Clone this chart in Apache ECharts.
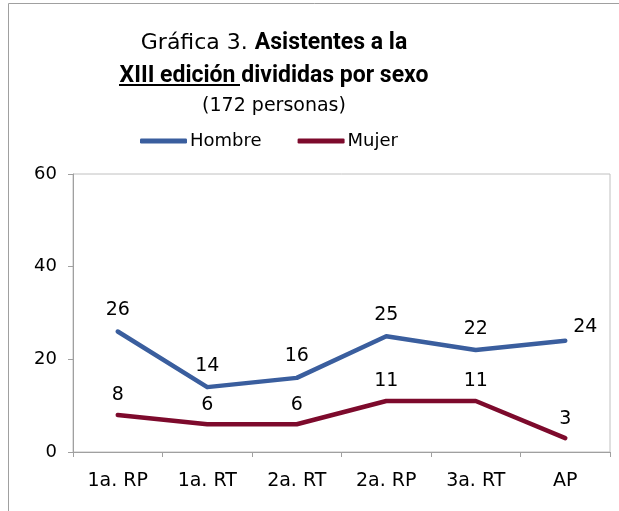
<!DOCTYPE html>
<html><head><meta charset="utf-8">
<script src="https://cdn.jsdelivr.net/npm/echarts@6/dist/echarts.min.js"></script>
<style>html,body{margin:0;padding:0;background:#fff}#c{width:619px;height:511px}</style>
</head><body><div id="c"></div>
<script>
var categories = ['1a. RP', '1a. RT', '2a. RT', '2a. RP', '3a. RT', 'AP'];
var hombre = [26, 14, 16, 25, 22, 24];
var mujer = [8, 6, 6, 11, 11, 3];
var seriesNames = ['Hombre', 'Mujer'];
var yTicks = {min: 0, max: 60, interval: 20};

var FONT = 'DejaVu Sans';
var BFONT = 'Roboto';
var chart = echarts.init(document.getElementById('c'), null, {renderer: 'canvas'});
var lastLabel = function (arr) {
  return arr.map(function (v, i) {
    if (i === arr.length - 1) {
      return {value: v, label: {position: 'right', distance: 8, offset: [0, -14]}};
    }
    return v;
  });
};
chart.setOption({
  animation: false,
  title: {
    left: 269, top: 22, textAlign: 'center',
    text: '{n|Gráfica 3. }{b|Asistentes a la}\n{b|XIII edición divididas por sexo}\n{s|(172 personas)}',
    textStyle: {
      fontWeight: 'normal',
      rich: {
        n: {fontFamily: FONT, fontWeight: 'normal', fontSize: 22, color: '#000', lineHeight: 33},
        b: {fontFamily: BFONT, fontWeight: 'bold', fontSize: 23, color: '#000', lineHeight: 33},
        s: {fontFamily: FONT, fontWeight: 'normal', fontSize: 19, color: '#000', lineHeight: 26}
      }
    }
  },
  legend: {
    left: 135, top: 127,
    itemWidth: 47, itemHeight: 5, itemGap: 36,
    icon: 'roundRect',
    textStyle: {fontFamily: FONT, fontSize: 18, color: '#000', padding: [0, 0, 0, -2]},
    data: seriesNames
  },
  graphic: [
    {type: 'polyline', shape: {points: [[8.5, 700], [8.5, 3.5], [700, 3.5]]}, style: {stroke: '#a0a0a0', lineWidth: 1, fill: null}, silent: true},
    {type: 'line', shape: {x1: 119, y1: 85, x2: 240, y2: 85}, style: {stroke: '#000', lineWidth: 2}, silent: true}
  ],
  grid: {left: 73, top: 174, right: 9, bottom: 59, show: true, borderColor: '#c0c0c0', borderWidth: 1, containLabel: false},
  xAxis: {
    type: 'category', data: categories, boundaryGap: true,
    axisLine: {lineStyle: {color: '#a0a0a0', width: 1}},
    axisTick: {show: true, length: 5, lineStyle: {color: '#a0a0a0'}},
    axisLabel: {fontFamily: FONT, fontSize: 19, color: '#000', margin: 20, interval: 0}
  },
  yAxis: {
    type: 'value', min: yTicks.min, max: yTicks.max, interval: yTicks.interval,
    splitLine: {show: false},
    axisLine: {show: true, lineStyle: {color: '#a0a0a0', width: 1}},
    axisTick: {show: true, length: 5, lineStyle: {color: '#a0a0a0'}},
    axisLabel: {fontFamily: FONT, fontSize: 18, color: '#000', margin: 16}
  },
  series: [
    {
      name: seriesNames[0], type: 'line', data: lastLabel(hombre),
      symbol: 'circle', symbolSize: 0, showSymbol: true, color: '#3A5E9E',
      lineStyle: {width: 4.5, cap: 'round', join: 'round'},
      label: {show: true, position: 'top', distance: 12, fontFamily: FONT, fontSize: 19, color: '#000'}
    },
    {
      name: seriesNames[1], type: 'line', data: mujer,
      symbol: 'circle', symbolSize: 0, showSymbol: true, color: '#7D0A2C',
      lineStyle: {width: 4.5, cap: 'round', join: 'round'},
      label: {show: true, position: 'top', distance: 10, fontFamily: FONT, fontSize: 19, color: '#000'}
    }
  ]
});
</script></body></html>
